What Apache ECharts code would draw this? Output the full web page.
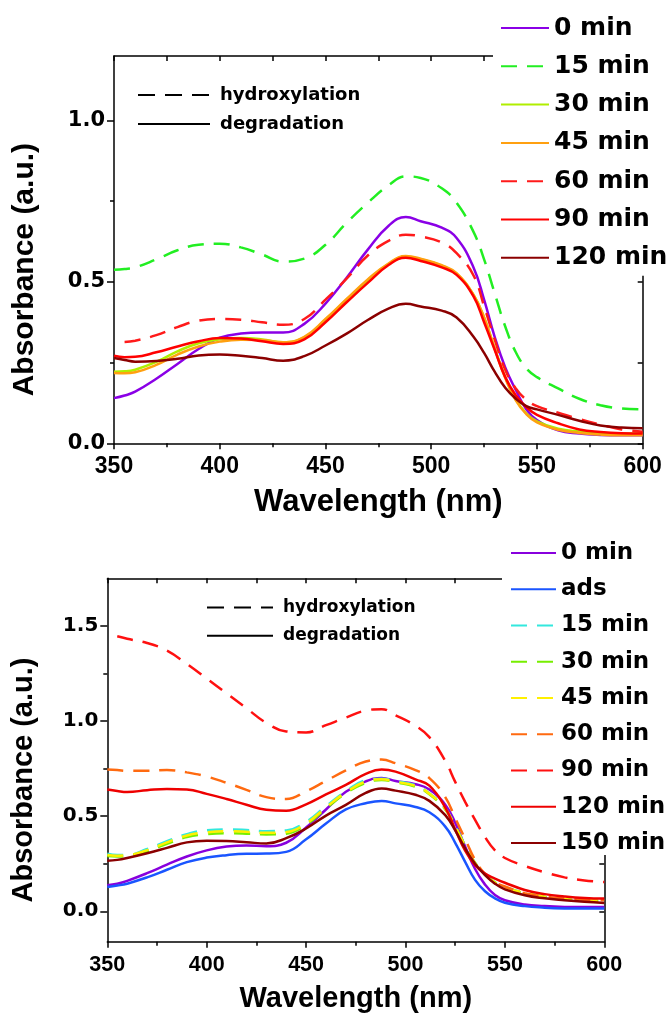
<!DOCTYPE html>
<html>
<head>
<meta charset="utf-8">
<script src="https://cdn.jsdelivr.net/npm/echarts@6/dist/echarts.min.js"></script>
<style>
  html, body { margin: 0; padding: 0; background: #ffffff; }
  #chart { width: 670px; height: 1015px; }
</style>
</head>
<body>
<div id="chart"></div>
<script>
// Wavelength grid (nm) shared by every spectrum
const wavelengths = [350,355,360,370,380,390,400,410,420,430,440,450,460,470,480,488,495,505,512,520,525,530,535,540,545,550,560,570,580,590,600];

// Upper panel: absorbance spectra
const upperLabels = ['0 min','15 min','30 min','45 min','60 min','90 min','120 min'];
const upper0   = [0.140,0.148,0.160,0.200,0.246,0.292,0.327,0.340,0.343,0.343,0.370,0.433,0.513,0.600,0.675,0.701,0.688,0.668,0.636,0.545,0.445,0.330,0.235,0.165,0.105,0.072,0.040,0.030,0.026,0.025,0.025];
const upper15  = [0.538,0.540,0.545,0.570,0.598,0.615,0.618,0.607,0.585,0.563,0.572,0.615,0.683,0.745,0.800,0.827,0.822,0.790,0.745,0.655,0.570,0.465,0.362,0.282,0.232,0.205,0.170,0.138,0.118,0.108,0.105];
const upper30  = [0.222,0.223,0.228,0.252,0.285,0.310,0.322,0.326,0.322,0.313,0.328,0.383,0.445,0.505,0.556,0.578,0.570,0.550,0.525,0.460,0.390,0.295,0.205,0.135,0.092,0.068,0.045,0.036,0.031,0.030,0.030];
const upper45  = [0.218,0.217,0.220,0.243,0.275,0.300,0.315,0.321,0.320,0.313,0.330,0.385,0.447,0.508,0.558,0.580,0.572,0.552,0.527,0.460,0.390,0.293,0.202,0.133,0.090,0.065,0.042,0.032,0.027,0.025,0.025];
const upper60  = [null,0.314,0.318,0.335,0.360,0.380,0.385,0.383,0.375,0.367,0.385,0.445,0.510,0.582,0.628,0.646,0.641,0.622,0.589,0.520,0.425,0.322,0.228,0.170,0.135,0.115,0.095,0.075,0.058,0.043,0.036];
const upper90  = [0.271,0.267,0.268,0.282,0.300,0.316,0.326,0.325,0.316,0.308,0.322,0.375,0.437,0.497,0.553,0.575,0.565,0.545,0.522,0.455,0.375,0.290,0.205,0.148,0.112,0.088,0.062,0.043,0.035,0.031,0.030];
const upper120 = [0.264,0.258,0.253,0.255,0.262,0.272,0.275,0.271,0.264,0.256,0.270,0.303,0.340,0.382,0.418,0.432,0.424,0.411,0.390,0.330,0.280,0.222,0.172,0.138,0.115,0.105,0.088,0.070,0.055,0.049,0.047];
const upperColors = ['#8a00e6','#22ee22','#b0ee00','#ffa010','#ff1a1a','#ff0000','#8b0000'];
const upperDashed = [false,true,false,false,true,false,false];

// Lower panel: absorbance spectra
const lowerLabels = ['0 min','ads','15 min','30 min','45 min','60 min','90 min','120 min','150 min'];
const lower0   = [0.137,0.145,0.160,0.200,0.245,0.288,0.320,0.340,0.346,0.342,0.360,0.440,0.535,0.628,0.683,0.701,0.685,0.668,0.640,0.560,0.465,0.340,0.222,0.140,0.085,0.058,0.035,0.027,0.023,0.022,0.022];
const lowerAds = [0.128,0.135,0.145,0.178,0.218,0.258,0.282,0.295,0.302,0.303,0.312,0.378,0.461,0.535,0.568,0.580,0.567,0.548,0.520,0.445,0.360,0.260,0.165,0.105,0.068,0.045,0.027,0.019,0.015,0.014,0.014];
const lower15  = [0.303,0.296,0.295,0.327,0.368,0.405,0.426,0.430,0.427,0.421,0.425,0.470,0.552,0.630,0.688,0.697,0.684,0.662,0.620,0.540,0.448,0.345,0.255,0.195,0.152,0.125,0.098,0.077,0.065,0.059,0.058];
const lower30  = [0.290,0.288,0.292,0.315,0.355,0.390,0.405,0.410,0.408,0.404,0.408,0.455,0.540,0.620,0.675,0.690,0.678,0.655,0.615,0.535,0.445,0.342,0.252,0.192,0.150,0.122,0.095,0.075,0.063,0.057,0.055];
const lower45  = [0.296,0.292,0.294,0.321,0.362,0.398,0.415,0.420,0.418,0.412,0.416,0.462,0.546,0.625,0.682,0.694,0.681,0.659,0.618,0.538,0.446,0.343,0.254,0.194,0.151,0.124,0.097,0.076,0.064,0.058,0.057];
const lower60  = [0.745,0.742,0.738,0.738,0.742,0.730,0.708,0.675,0.638,0.600,0.590,0.630,0.685,0.740,0.787,0.797,0.778,0.742,0.700,0.600,0.490,0.380,0.270,0.195,0.152,0.130,0.095,0.078,0.067,0.061,0.058];
const lower90  = [null,1.445,1.432,1.410,1.370,1.300,1.223,1.145,1.067,0.990,0.945,0.940,0.978,1.018,1.055,1.062,1.030,0.975,0.915,0.790,0.680,0.575,0.480,0.390,0.320,0.280,0.238,0.205,0.178,0.162,0.154];
const lower120 = [0.640,0.632,0.627,0.636,0.643,0.640,0.617,0.590,0.560,0.533,0.528,0.562,0.614,0.664,0.722,0.745,0.734,0.693,0.660,0.545,0.430,0.318,0.242,0.198,0.172,0.150,0.112,0.090,0.078,0.070,0.067];
const lower150 = [0.265,0.270,0.280,0.305,0.333,0.362,0.370,0.369,0.363,0.356,0.384,0.435,0.503,0.559,0.622,0.645,0.634,0.612,0.580,0.505,0.425,0.330,0.250,0.190,0.145,0.115,0.084,0.068,0.058,0.050,0.044];
const lowerColors = ['#8800dd','#1a55ff','#33e8dd','#77ee00','#fff000','#ff6a10','#ff1010','#ee0000','#8b0000'];
const lowerDashed = [false,false,true,true,true,true,true,false,false];

// Line-style key
const keyLabels = ['hydroxylation','degradation'];

// Axis tick labels
const upperYTicks = [0, 0.5, 1.0];
const upperYMinor = [0.25, 0.75];
const lowerYTicks = [0, 0.5, 1.0, 1.5];
const lowerYMinor = [0.25, 0.75, 1.25];

const upperValues = [upper0, upper15, upper30, upper45, upper60, upper90, upper120];
const lowerValues = [lower0, lowerAds, lower15, lower30, lower45, lower60, lower90, lower120, lower150];

const FONT = '"Liberation Sans", Arial, Helvetica, sans-serif';
const WIDE = '"DejaVu Sans", Verdana, sans-serif';
const DASH = [16, 10];

function spectrum(panel, label, values, color, dashed, axisIdx) {
  return {
    name: panel + ': ' + label,
    type: 'line',
    xAxisIndex: axisIdx.x,
    yAxisIndex: axisIdx.y,
    data: wavelengths.map((w, i) => [w, values[i]]),
    showSymbol: false,
    symbol: 'none',
    smooth: 0.45,
    lineStyle: { color: color, width: 2.5, type: dashed ? DASH : 'solid' },
    itemStyle: { color: color },
    emphasis: { disabled: true }
  };
}

function keySeries(panel, axisIdx) {
  return keyLabels.map((k, i) => ({
    name: panel + ': ' + k,
    type: 'line',
    xAxisIndex: axisIdx.x,
    yAxisIndex: axisIdx.y,
    data: [],
    symbol: 'none',
    lineStyle: { color: '#000', width: 2.5, type: i === 0 ? [17, 10] : 'solid' },
    itemStyle: { color: '#000' }
  }));
}

const upperAxes = { x: 0, y: 0 };
const lowerAxes = { x: 2, y: 3 };

const series = [];
upperLabels.forEach((l, i) => series.push(spectrum('upper', l, upperValues[i], upperColors[i], upperDashed[i], upperAxes)));
lowerLabels.forEach((l, i) => series.push(spectrum('lower', l, lowerValues[i], lowerColors[i], lowerDashed[i], lowerAxes)));
series.push(...keySeries('upper', upperAxes));
series.push(...keySeries('lower', lowerAxes));

const axisLineStyle = { color: '#000', width: 1.5 };
const stripPanel = n => n.split(': ')[1];

function bottomX(grid, labelSize, nameSize, nameGap) {
  return {
    gridIndex: grid, type: 'value', position: 'bottom', min: 350, max: 600, interval: 50,
    axisLine: { show: true, onZero: false, lineStyle: axisLineStyle },
    axisTick: { show: true, inside: false, length: 6, lineStyle: axisLineStyle },
    minorTick: { show: true, splitNumber: 2, length: 4, lineStyle: axisLineStyle },
    splitLine: { show: false }, minorSplitLine: { show: false },
    axisLabel: { fontSize: labelSize, fontWeight: 'bold', color: '#000', margin: 12, fontFamily: FONT },
    name: 'Wavelength (nm)', nameLocation: 'middle', nameGap: nameGap,
    nameTextStyle: { fontSize: nameSize, fontWeight: 'bold', color: '#000', fontFamily: FONT }
  };
}
function topX(grid) {
  return {
    gridIndex: grid, type: 'value', position: 'top', min: 350, max: 600, interval: 25,
    axisLine: { show: true, onZero: false, lineStyle: axisLineStyle },
    axisTick: { show: true, inside: true, length: 5, lineStyle: axisLineStyle },
    axisLabel: { show: false }, splitLine: { show: false }
  };
}
function leftY(grid, min, max, ticks, labelSize, nameSize, nameGap) {
  return {
    gridIndex: grid, type: 'value', position: 'left', min: min, max: max,
    axisLine: { show: true, onZero: false, lineStyle: axisLineStyle },
    axisTick: { show: true, inside: false, length: 7, customValues: ticks, lineStyle: axisLineStyle },
    axisLabel: { customValues: ticks, formatter: v => v.toFixed(1), fontSize: labelSize, fontWeight: 'bold', color: '#000', margin: 9, fontFamily: WIDE },
    splitLine: { show: false },
    name: 'Absorbance (a.u.)', nameLocation: 'middle', nameGap: nameGap,
    nameTextStyle: { fontSize: nameSize, fontWeight: 'bold', color: '#000', fontFamily: FONT, padding: [0, 40, 0, 0] }
  };
}
function minorY(grid, min, max, ticks) {
  return {
    gridIndex: grid, type: 'value', position: 'left', min: min, max: max,
    axisLine: { show: false, onZero: false },
    axisTick: { show: true, inside: false, length: 4, customValues: ticks, lineStyle: axisLineStyle },
    axisLabel: { show: false }, splitLine: { show: false }
  };
}
function rightY(grid, min, max, ticks) {
  return {
    gridIndex: grid, type: 'value', position: 'right', min: min, max: max,
    axisLine: { show: true, onZero: false, lineStyle: axisLineStyle },
    axisTick: { show: true, inside: true, length: 5, customValues: ticks, lineStyle: axisLineStyle },
    axisLabel: { show: false }, splitLine: { show: false }
  };
}

// Legend entries show only the line sample, no marker in the middle
const noMarker = { opacity: 0 };

const chart = echarts.init(document.getElementById('chart'), null, { renderer: 'canvas' });
chart.setOption({
  animation: false,
  backgroundColor: '#ffffff',
  textStyle: { fontFamily: FONT },
  grid: [
    { left: 114, top: 56, width: 528.7, height: 387.3 },
    { left: 107.3, top: 578.3, width: 497, height: 363.4 }
  ],
  xAxis: [ bottomX(0, 23, 31, 44), topX(0), bottomX(1, 21.5, 29, 43), topX(1) ],
  yAxis: [
    leftY(0, 0, 1.2, upperYTicks, 21, 30, 74),
    minorY(0, 0, 1.2, upperYMinor),
    rightY(0, 0, 1.2, [0, 0.25, 0.5, 0.75, 1.0]),
    leftY(1, -0.16, 1.75, lowerYTicks, 20, 29, 69),
    minorY(1, -0.16, 1.75, lowerYMinor),
    rightY(1, -0.16, 1.75, [0, 0.25, 0.5, 0.75, 1.0, 1.25, 1.5])
  ],
  legend: [
    {
      data: upperLabels.map(l => 'upper: ' + l),
      orient: 'vertical', left: 493, top: 0, padding: [15, 30, 5, 7],
      itemWidth: 48, itemHeight: 14, itemGap: 12.3, itemStyle: noMarker,
      backgroundColor: '#ffffff', selectedMode: false, z: 10,
      formatter: stripPanel,
      textStyle: { fontSize: 25, lineHeight: 26, fontWeight: 'bold', color: '#000', fontFamily: WIDE }
    },
    {
      data: lowerLabels.map(l => 'lower: ' + l),
      orient: 'vertical', left: 502, top: 535, padding: [6, 20, 0, 8],
      itemWidth: 45, itemHeight: 14, itemGap: 12.25, itemStyle: noMarker,
      backgroundColor: '#ffffff', selectedMode: false, z: 10,
      formatter: stripPanel,
      textStyle: { fontSize: 23, lineHeight: 24, fontWeight: 'bold', color: '#000', fontFamily: WIDE }
    },
    {
      data: keyLabels.map(l => 'upper: ' + l),
      orient: 'vertical', left: 137, top: 85, padding: 0,
      itemWidth: 72, itemHeight: 10, itemGap: 9, itemStyle: noMarker, selectedMode: false,
      formatter: stripPanel,
      textStyle: { fontSize: 18, lineHeight: 20, fontWeight: 'bold', color: '#000', fontFamily: WIDE, padding: [0, 0, 0, 5] }
    },
    {
      data: keyLabels.map(l => 'lower: ' + l),
      orient: 'vertical', left: 206, top: 598, padding: 0,
      itemWidth: 66, itemHeight: 10, itemGap: 9.3, itemStyle: noMarker, selectedMode: false,
      formatter: stripPanel,
      textStyle: { fontSize: 17, lineHeight: 19, fontWeight: 'bold', color: '#000', fontFamily: WIDE, padding: [0, 0, 0, 5] }
    }
  ],
  series: series
});
</script>
</body>
</html>
